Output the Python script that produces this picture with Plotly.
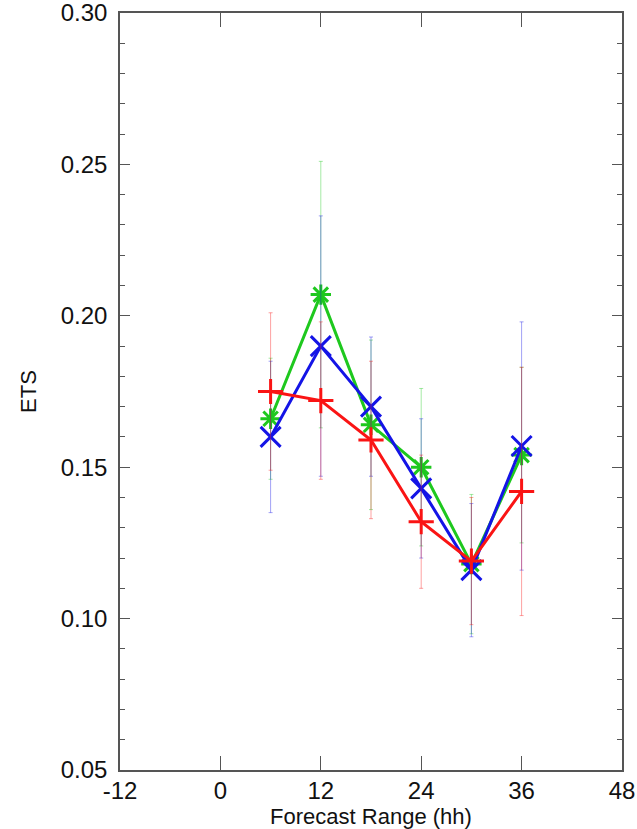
import plotly.graph_objects as go

forecast_hours = [6, 12, 18, 24, 30, 36]

red_ets = [0.175, 0.172, 0.159, 0.132, 0.119, 0.142]
red_err = [0.026, 0.026, 0.026, 0.022, 0.021, 0.041]

green_ets = [0.166, 0.207, 0.164, 0.150, 0.118, 0.154]
green_err = [0.020, 0.044, 0.028, 0.026, 0.023, 0.029]

blue_ets = [0.160, 0.190, 0.170, 0.143, 0.116, 0.157]
blue_err = [0.025, 0.043, 0.023, 0.023, 0.022, 0.041]

x_ticks = [-12, 0, 12, 24, 36, 48]
y_ticks = [0.05, 0.10, 0.15, 0.20, 0.25, 0.30]

series = [
    ("green", green_ets, green_err, "rgb(30,200,30)", "rgba(30,200,30,0.4)", "asterisk", 17),
    ("blue", blue_ets, blue_err, "rgb(20,20,230)", "rgba(20,20,230,0.4)", "x-thin", 20),
    ("red", red_ets, red_err, "rgb(250,20,20)", "rgba(250,20,20,0.4)", "cross-thin", 18),
]

fig = go.Figure()
for name, ys, errs, col, ecol, sym, sz in series:
    fig.add_trace(go.Scatter(
        x=forecast_hours, y=ys, name=name, mode="lines+markers",
        line=dict(color=col, width=3),
        marker=dict(symbol=sym, size=sz, color=col, line=dict(color=col, width=3)),
        error_y=dict(type="data", array=errs, visible=True, color=ecol,
                     thickness=1, width=2),
        showlegend=False,
    ))

tick_font = dict(family="Liberation Sans, Arial, sans-serif", size=24, color="#111")
title_font = dict(family="Liberation Sans, Arial, sans-serif", size=22, color="#111")

fig.update_layout(
    width=637, height=829,
    margin=dict(l=120, r=15, t=13, b=59, autoexpand=False),
    paper_bgcolor="white", plot_bgcolor="white",
    font=tick_font,
)
fig.update_xaxes(
    range=[-12, 48], tickvals=x_ticks, ticktext=[str(v) for v in x_ticks],
    ticks="inside", ticklen=14, tickwidth=1, tickcolor="#555",
    ticklabeloverflow="allow", ticklabelstandoff=-2,
    showline=True, linecolor="#555", linewidth=1.5, mirror="ticks",
    showgrid=False, zeroline=False, automargin=False,
    title=dict(text="Forecast Range (hh)", standoff=2, font=title_font),
    tickfont=tick_font,
)
fig.update_yaxes(
    range=[0.05, 0.30], tickvals=y_ticks, ticktext=[f"{v:.2f}" for v in y_ticks],
    ticks="inside", ticklen=10, tickwidth=1, tickcolor="#555",
    minor=dict(dtick=0.01, ticks="inside", ticklen=5, tickcolor="#555"),
    ticklabelstandoff=6, ticklabeloverflow="allow",
    showline=True, linecolor="#555", linewidth=1.5, mirror="ticks",
    showgrid=False, zeroline=False, automargin=False,
    title=dict(text="ETS", standoff=18, font=title_font),
    tickfont=tick_font,
)

fig.write_html("out.html", config={"displayModeBar": False},
               post_script="document.body.style.margin='0';")
